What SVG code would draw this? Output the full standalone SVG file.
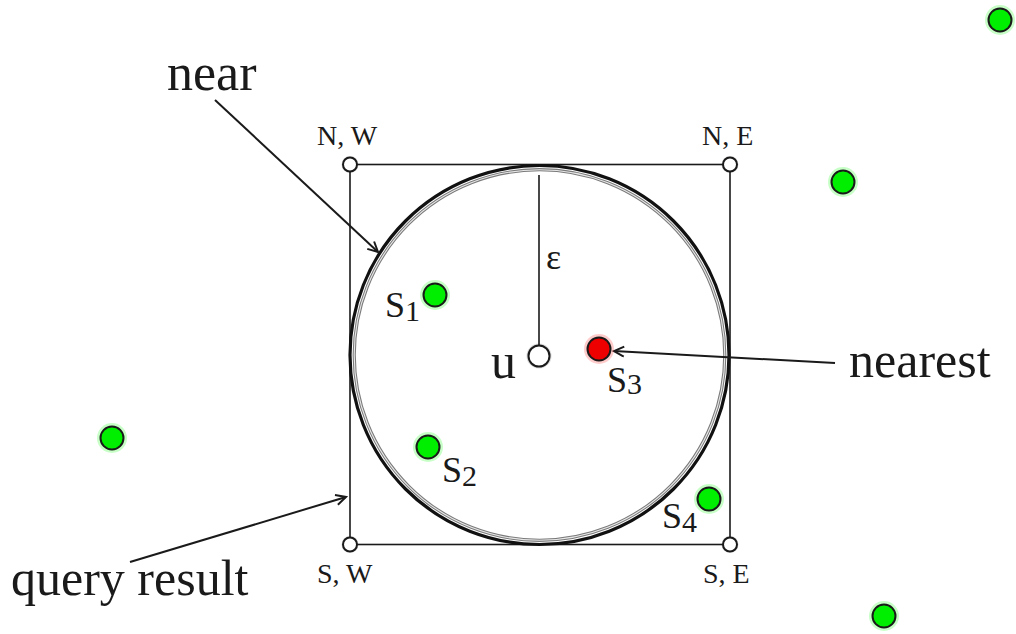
<svg xmlns="http://www.w3.org/2000/svg" width="1016" height="634" viewBox="0 0 1016 634">
<style>
text{font-family:"Liberation Serif","Times New Roman",serif;fill:#1a1a1a}
.big{font-size:50px}
.corner{font-size:28px}
.s{font-size:36px}
.sub{font-size:30px}
.dot{fill:#00ee00;stroke:#1a1a1a;stroke-width:2}
.halo{fill:#00ff00;opacity:0.22}
.v{fill:#fff;stroke:#1a1a1a;stroke-width:2}
.vh{fill:#000;opacity:0.15}
.edge{stroke:#1a1a1a;stroke-width:1.6;fill:none}
.arr{stroke:#1a1a1a;stroke-width:2;fill:none;marker-end:url(#ah)}
</style>
<defs>
<marker id="ah" markerWidth="14" markerHeight="14" refX="11" refY="6" orient="auto" markerUnits="userSpaceOnUse">
<path d="M1,1 L11,6 L1,11" fill="none" stroke="#1a1a1a" stroke-width="2"/>
</marker>
</defs>
<rect width="1016" height="634" fill="#fff"/>
<g id="query-square">
<rect x="350" y="164.5" width="380" height="380" class="edge"/>
</g>
<g id="near-circle">
<circle cx="539.5" cy="355" r="189.5" fill="none" stroke="#111" stroke-width="3.2"/>
<circle cx="539.5" cy="355" r="185.3" fill="none" stroke="#7a7a7a" stroke-width="3.2"/>
<circle cx="539.5" cy="355" r="185.3" fill="none" stroke="#e8e8e8" stroke-width="1.1"/>
</g>
<g id="connectors">
<line x1="539" y1="175" x2="539" y2="346" class="edge"/>
<line x1="215" y1="100" x2="378" y2="252" class="arr"/>
<line x1="835" y1="363" x2="614" y2="351" class="arr"/>
<line x1="130" y1="562" x2="346" y2="497" class="arr"/>
</g>
<g id="u">
<circle cx="539" cy="356" r="12.5" class="vh"/>
<circle cx="539" cy="356" r="10.5" class="v" stroke-width="2.5"/>
<text x="491" y="378" class="big">u</text>
</g>
<text id="eps" x="546" y="269" style="font-size:36px">ε</text>
<g id="nw"><circle cx="350" cy="164.5" r="8.5" class="vh"/><circle cx="350" cy="164.5" r="7" class="v"/><text x="317" y="145" class="corner">N, W</text></g>
<g id="ne"><circle cx="730" cy="164.5" r="8.5" class="vh"/><circle cx="730" cy="164.5" r="7" class="v"/><text x="702" y="145" class="corner">N, E</text></g>
<g id="sw"><circle cx="350" cy="544.5" r="8.5" class="vh"/><circle cx="350" cy="544.5" r="7" class="v"/><text x="317" y="583" class="corner">S, W</text></g>
<g id="se"><circle cx="730" cy="544.5" r="8.5" class="vh"/><circle cx="730" cy="544.5" r="7" class="v"/><text x="703" y="583" class="corner">S, E</text></g>
<g id="s1"><circle cx="435" cy="295" r="15" class="halo"/><circle cx="435" cy="295" r="11.5" class="dot"/><text x="385" y="317" class="s">S<tspan class="sub" dy="4">1</tspan></text></g>
<g id="s2"><circle cx="428" cy="447" r="15" class="halo"/><circle cx="428" cy="447" r="11.5" class="dot"/><text x="442" y="482" class="s">S<tspan class="sub" dy="4">2</tspan></text></g>
<g id="s3"><circle cx="599" cy="349" r="15" fill="#ff0000" opacity="0.2"/><circle cx="599" cy="349" r="11.5" fill="#ee0000" stroke="#1a1a1a" stroke-width="2"/><text x="607" y="392" class="s">S<tspan class="sub" dy="2">3</tspan></text></g>
<g id="s4"><circle cx="709" cy="499" r="15" class="halo"/><circle cx="709" cy="499" r="11.5" class="dot"/><text x="662" y="528" class="s">S<tspan class="sub" dy="4">4</tspan></text></g>
<g id="p1"><circle cx="1000" cy="20" r="15" class="halo"/><circle cx="1000" cy="20" r="11.5" class="dot"/></g>
<g id="p2"><circle cx="843" cy="182" r="15" class="halo"/><circle cx="843" cy="182" r="11.5" class="dot"/></g>
<g id="p3"><circle cx="112" cy="438" r="15" class="halo"/><circle cx="112" cy="438" r="11.5" class="dot"/></g>
<g id="p4"><circle cx="884" cy="616" r="15" class="halo"/><circle cx="884" cy="616" r="11.5" class="dot"/></g>
<text id="near" x="167" y="90" class="big" style="font-size:52px">near</text>
<text id="nearest" x="849" y="377" class="big">nearest</text>
<text id="query" x="11" y="595" class="big">query result</text>
</svg>
